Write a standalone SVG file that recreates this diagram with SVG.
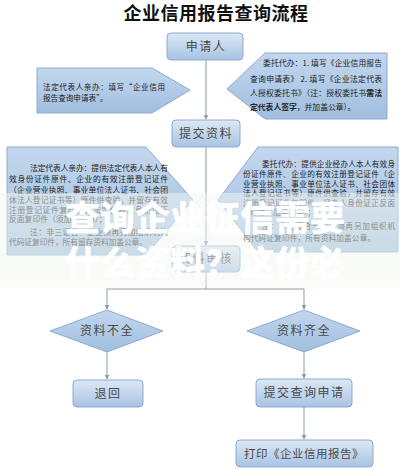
<svg xmlns="http://www.w3.org/2000/svg" width="400" height="470" viewBox="0 0 400 470">
<defs>
<linearGradient id="gb" x1="0" y1="0" x2="0" y2="1">
<stop offset="0" stop-color="#dde8f5"/>
<stop offset="1" stop-color="#a8c3e3"/>
</linearGradient>
<linearGradient id="gs" x1="0" y1="0" x2="0" y2="1">
<stop offset="0" stop-color="#c3d7ee"/>
<stop offset="1" stop-color="#a0bedf"/>
</linearGradient>
<marker id="ar" viewBox="0 0 8 8" refX="7" refY="4" markerWidth="5" markerHeight="5" orient="auto">
<path d="M0,0 L8,4 L0,8 z" fill="#8b9bb0"/>
</marker>
<style>
.box{fill:url(#gb);stroke:#8eaad0;stroke-width:1}
.shp{fill:url(#gs);stroke:#8eaad0;stroke-width:1}
.lbl{font-family:"Noto Sans CJK SC","Noto Sans",sans-serif;font-size:12px;fill:#4a4a4a;text-anchor:middle;letter-spacing:1.5px}
.sm{font-family:"Noto Sans CJK SC","Noto Sans",sans-serif;fill:#222}
.ln{fill:none;stroke:#8b9bb0;stroke-width:1}
.wm{font-family:"Noto Sans CJK SC",sans-serif;font-weight:900;font-size:35px;fill:#ffffff}
</style>
</defs>
<rect width="400" height="470" fill="#ffffff"/>
<text x="216" y="20" style="font-family:'Noto Sans CJK SC',sans-serif;font-weight:bold;font-size:18px;fill:#111" text-anchor="middle" letter-spacing="0.5">企业信用报告查询流程</text>

<g id="connectors">
<line class="ln" x1="206" y1="60" x2="206" y2="119" marker-end="url(#ar)"/>
<line class="ln" x1="206" y1="147" x2="206" y2="245" marker-end="url(#ar)"/>
<polyline class="ln" points="206,272 206,289"/>
<polyline class="ln" points="107,289 304,289 304,309" marker-end="url(#ar)"/>
<line class="ln" x1="107" y1="289" x2="107" y2="309" marker-end="url(#ar)"/>
<line class="ln" x1="107" y1="352" x2="107" y2="379" marker-end="url(#ar)"/>
<line class="ln" x1="304" y1="352" x2="304" y2="378" marker-end="url(#ar)"/>
<line class="ln" x1="304" y1="407" x2="304" y2="439" marker-end="url(#ar)"/>
</g>

<g id="applicant">
<rect class="box" x="167" y="33" width="76" height="27" rx="4"/>
<text class="lbl" x="206" y="51">申请人</text>
</g>

<g id="note-legal">
<polygon class="shp" points="37,68 152,68 190,90 152,113 37,113"/>
<text class="sm" font-size="7.6px"><tspan x="43" y="90" textLength="122" lengthAdjust="spacing">法定代表人亲办：填写“企业信用</tspan><tspan x="43" y="101">报告查询申请表”。</tspan></text>
</g>

<g id="note-agent">
<polygon class="shp" points="265,53 387,53 387,119 265,119 227,89"/>
<text class="sm" font-size="7.8px"><tspan x="263" y="66" textLength="119" lengthAdjust="spacing">委托代办：1. 填写《企业信用报告</tspan><tspan x="250" y="82" textLength="132" lengthAdjust="spacing">查询申请表》 2. 填写《企业法定代表</tspan><tspan x="250" y="96" textLength="132" lengthAdjust="spacing">人授权委托书》（注：授权委托书<tspan font-weight="bold">需法</tspan></tspan><tspan x="250" y="110" font-weight="bold">定代表人签字<tspan font-weight="normal">，并加盖公章）。</tspan></tspan></text>
</g>

<g id="submit">
<rect class="box" x="172" y="120" width="68" height="27" rx="4"/>
<text class="lbl" x="206" y="138">提交资料</text>
</g>

<g id="detail-legal">
<polygon class="shp" points="7,147 146,147 193,200 146,255 7,255"/>
<text class="sm" font-size="7.8px"><tspan x="30" y="171" textLength="138" lengthAdjust="spacing">法定代表人亲办：提供法定代表人本人有</tspan><tspan x="9" y="182" textLength="159" lengthAdjust="spacing">效身份证件原件、企业的有效注册登记证件</tspan><tspan x="9" y="193" textLength="159" lengthAdjust="spacing">（企业营业执照、事业单位法人证书、社会团</tspan><tspan x="9" y="203" textLength="159" lengthAdjust="spacing">体法人登记证书等）原件供查验，并留存有效</tspan><tspan x="9" y="213" textLength="159" lengthAdjust="spacing">注册登记证件复印件、法定代表人身份证正</tspan><tspan x="9" y="222">反面复印件（须加盖公章）；</tspan><tspan x="30" y="235" textLength="138" lengthAdjust="spacing">注：非三证合一企业须再另加组织机构</tspan><tspan x="9" y="245" textLength="138" lengthAdjust="spacing">代码证复印件，所有留存资料加盖公章。</tspan></text>
</g>

<g id="detail-agent">
<polygon class="shp" points="258,147 398,147 398,252 258,252 218,200"/>
<text class="sm" font-size="7.6px"><tspan x="262" y="167" textLength="133" lengthAdjust="spacing">委托代办：提供企业经办人本人有效身</tspan><tspan x="243" y="177" textLength="152" lengthAdjust="spacing">份证件原件、企业的有效注册登记证件（企</tspan><tspan x="243" y="187" textLength="152" lengthAdjust="spacing">业营业执照、事业单位法人证书、社会团体</tspan><tspan x="243" y="196" textLength="152" lengthAdjust="spacing">法人登记证书等）原件供查验，并留存有效</tspan><tspan x="243" y="206" textLength="152" lengthAdjust="spacing">注册登记证件复印件、经办人身份证正反面</tspan><tspan x="243" y="215">复印件（加盖公章）；</tspan><tspan x="262" y="229" textLength="133" lengthAdjust="spacing">注：非三证合一企业须再另加组织机</tspan><tspan x="243" y="241" textLength="132" lengthAdjust="spacing">构代码证复印件，所有资料加盖公章。</tspan></text>
</g>

<g id="review">
<rect class="box" x="172" y="246" width="68" height="26" rx="4"/>
<text class="lbl" x="206" y="263">资料审核</text>
</g>

<g id="incomplete">
<polygon class="shp" points="50,331 107,310 163,331 107,352"/>
<text class="lbl" x="107" y="335">资料不全</text>
</g>

<g id="complete">
<polygon class="shp" points="247,331 304,310 360,331 304,352"/>
<text class="lbl" x="304" y="335">资料齐全</text>
</g>

<g id="return">
<rect class="box" x="73" y="380" width="70" height="27" rx="4"/>
<text class="lbl" x="108" y="398">退回</text>
</g>

<g id="submit-query">
<rect class="box" x="256" y="379" width="96" height="28" rx="4"/>
<text class="lbl" x="304" y="397">提交查询申请</text>
</g>

<g id="print">
<rect class="box" x="236" y="440" width="137" height="27" rx="4"/>
<text class="lbl" x="304" y="458" style="font-size:11.5px;letter-spacing:0.5px">打印《企业信用报告》</text>
</g>

<g id="watermark">
<rect x="0" y="193" width="400" height="94" fill="#f3f8f2" opacity="0.5"/>
<text class="wm" x="65" y="231">查询企业征信需要</text>
<text class="wm" x="65" y="276">什么资料？这份必</text>
</g>
</svg>
